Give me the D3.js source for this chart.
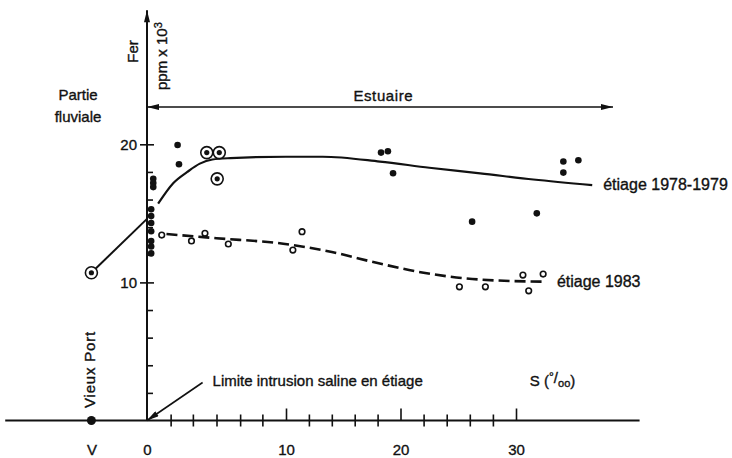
<!DOCTYPE html>
<html>
<head>
<meta charset="utf-8">
<script src="https://cdn.jsdelivr.net/npm/d3@7"></script>
<style>
  body { margin: 0; background: #fff; }
  svg { display: block; }
  text { font-family: "Liberation Sans", Arial, sans-serif; fill: #111; stroke: #111; stroke-width: 0.35px; }
</style>
</head>
<body>
<div id="chart"></div>
<script>
const width = 732, height = 458;

// salinity S (o/oo); the Vieux Port station "V" sits left of 0
const stationV = -4;
const xTickValues = [stationV, 0, 10, 20, 30];
const xTickLabels = ["V", "0", "10", "20", "30"];
const xMinorTicks = [1.7, 3.3, 5, 6.7, 8.3, 12, 14, 16, 18, 22, 24, 26, 28];
const yTickValues = [10, 20];
const yTickLabels = ["10", "20"];
const yMinorTicks = [2, 4, 6, 8, 12, 14, 16, 18];

// étiage 1978-1979, filled dots (Fer, ppm x 10^3)
const s1979 = [0.45, 0.45, 0.45, 0.3, 0.3, 0.3, 0.3, 0.3, 0.3, 0.3, 2.2, 2.3, 18.3, 18.9, 19.35, 26.2, 31.8, 34.1, 35.4, 34.1];
const fer1979 = [17.5, 17.2, 16.9, 15.3, 14.8, 14.3, 13.7, 13.0, 12.6, 12.1, 19.95, 18.55, 19.4, 19.5, 17.9, 14.4, 15.0, 18.75, 18.85, 17.95];
// ringed dots
const sRinged = [stationV, 4.3, 5.2, 5.05];
const ferRinged = [10.7, 19.4, 19.4, 17.5];
// river stretch and estuary curve 1978-1979
const sRiver = [stationV, 0];
const ferRiver = [10.7, 14.6];
const sCurve1979 = [0.8, 1.9, 2.9, 3.8, 4.7, 6.0, 10, 13.2, 18.2, 22.5, 26.9, 31.5, 36.6];
const ferCurve1979 = [15.7, 17.2, 18.0, 18.6, 18.9, 19.0, 19.1, 19.1, 18.75, 18.3, 17.9, 17.45, 17.05];

// étiage 1983, open circles
const s1983 = [1.06, 3.2, 4.17, 5.85, 10.6, 11.4, 25.1, 27.35, 30.6, 31.1, 32.35];
const fer1983 = [13.43, 13.0, 13.55, 12.78, 12.34, 13.67, 9.68, 9.68, 10.53, 9.39, 10.6];
const sCurve1983 = [1.4, 5, 9.8, 14, 18, 22, 27, 32.5];
const ferCurve1983 = [13.5, 13.2, 12.8, 12.2, 11.4, 10.7, 10.2, 10.05];

const zip = (xs, ys) => xs.map((d, i) => [d, ys[i]]);

const x = d3.scaleLinear()
    .domain([0, 10, 20, 30])
    .range([147, 286, 400.5, 516]);

const y = d3.scaleLinear()
    .domain([0, 20])
    .range([420.5, 144.3]);

const svg = d3.select("#chart").append("svg")
    .attr("width", width)
    .attr("height", height)
    .attr("viewBox", `0 0 ${width} ${height}`);

const defs = svg.append("defs");
defs.append("marker")
    .attr("id", "arrow")
    .attr("viewBox", "0 0 12 6")
    .attr("refX", 12)
    .attr("refY", 3)
    .attr("markerUnits", "userSpaceOnUse")
    .attr("markerWidth", 13)
    .attr("markerHeight", 6)
    .attr("orient", "auto-start-reverse")
    .append("path")
    .attr("d", "M0,0 L12,3 L0,6 Z")
    .attr("fill", "#111");

const ink = "#111";

// axis lines
svg.append("line")
    .attr("x1", x(-10.2)).attr("x2", x(40.7))
    .attr("y1", y(0)).attr("y2", y(0))
    .attr("stroke", ink).attr("stroke-width", 2);

svg.append("line")
    .attr("x1", x(0)).attr("x2", x(0))
    .attr("y1", y(0)).attr("y2", y(29.7))
    .attr("stroke", ink).attr("stroke-width", 2)
    .attr("marker-end", "url(#arrow)");

const styleText = g => g.selectAll(".tick text")
    .attr("fill", ink)
    .style("font-family", "'Liberation Sans', Arial, sans-serif")
    .style("font-size", "15px");

svg.append("g")
    .attr("transform", `translate(0, ${y(0)})`)
    .call(d3.axisBottom(x).tickValues(xTickValues).tickSize(-12).tickPadding(24)
        .tickFormat((d, i) => xTickLabels[i]))
    .call(g => g.select(".domain").remove())
    .call(g => g.selectAll(".tick line")
        .attr("stroke", ink).attr("stroke-width", 1.6)
        .attr("display", d => (d <= 0 ? "none" : null)))
    .call(styleText);

svg.append("g")
    .attr("transform", `translate(0, ${y(0)})`)
    .call(d3.axisBottom(x).tickValues(xMinorTicks).tickSize(6).tickFormat(""))
    .call(g => g.select(".domain").remove())
    .call(g => g.selectAll(".tick line")
        .attr("y1", -6).attr("stroke", ink).attr("stroke-width", 1.6));

svg.append("g")
    .attr("transform", `translate(${x(0)}, 0)`)
    .call(d3.axisLeft(y).tickValues(yTickValues).tickSize(7).tickPadding(3)
        .tickFormat((d, i) => yTickLabels[i]))
    .call(g => g.select(".domain").remove())
    .call(g => g.selectAll(".tick line")
        .attr("x1", 7).attr("stroke", ink).attr("stroke-width", 1.6))
    .call(styleText);

svg.append("g")
    .attr("transform", `translate(${x(0)}, 0)`)
    .call(d3.axisRight(y).tickValues(yMinorTicks).tickSize(6).tickFormat(""))
    .call(g => g.select(".domain").remove())
    .call(g => g.selectAll(".tick line").attr("stroke", ink).attr("stroke-width", 1.6));

// axis titles and annotations
const label = (px, py, txt, size = 15) => svg.append("text")
    .attr("x", px).attr("y", py)
    .style("font-size", `${size}px`)
    .text(txt);

svg.append("text")
    .attr("transform", `translate(${x(0) - 9}, 51.5) rotate(-90)`)
    .attr("text-anchor", "middle")
    .style("font-size", "15px")
    .text("Fer");

const ppm = svg.append("text")
    .attr("transform", `translate(${x(0) + 20}, 90) rotate(-90)`)
    .style("font-size", "15px");
ppm.append("tspan").text("ppm x 10");
ppm.append("tspan").attr("dy", "-0.45em").style("font-size", "11px").text("3");

label(78, 100, "Partie").attr("text-anchor", "middle");
label(78, 122, "fluviale").attr("text-anchor", "middle");

svg.append("text")
    .attr("transform", `translate(${x(stationV) + 4}, 408) rotate(-90)`)
    .style("font-size", "15px")
    .style("letter-spacing", "0.8px")
    .text("Vieux Port");

// estuary extent
svg.append("line")
    .attr("x1", x(0)).attr("x2", x(38.4))
    .attr("y1", y(22.7)).attr("y2", y(22.7))
    .attr("stroke", ink).attr("stroke-width", 1.6)
    .attr("marker-start", "url(#arrow)")
    .attr("marker-end", "url(#arrow)");
label(x(18.5), y(22.7) - 6, "Estuaire")
    .attr("text-anchor", "middle")
    .style("letter-spacing", "0.6px");

// saline intrusion limit
svg.append("line")
    .attr("x1", x(4.0)).attr("y1", y(2.75))
    .attr("x2", x(0)).attr("y2", y(0))
    .attr("stroke", ink).attr("stroke-width", 1.6)
    .attr("marker-end", "url(#arrow)");
label(x(4.0) + 10, y(2.75) + 3, "Limite intrusion saline en étiage");

const sLabel = svg.append("text")
    .attr("x", x(31.2)).attr("y", y(2.5))
    .style("font-size", "15px");
sLabel.append("tspan").text("S (");
sLabel.append("tspan").attr("dy", "-0.4em").style("font-size", "12px").text("°");
sLabel.append("tspan").attr("dy", "0.1em").text("/");
sLabel.append("tspan").attr("dy", "0.35em").style("font-size", "11px").text("oo");
sLabel.append("tspan").attr("dy", "-0.05em").text(")");

// curves
const line = d3.line()
    .x(d => x(d[0]))
    .y(d => y(d[1]))
    .curve(d3.curveMonotoneX);

svg.append("path")
    .datum(zip(sRiver, ferRiver))
    .attr("d", d3.line().x(d => x(d[0])).y(d => y(d[1])))
    .attr("fill", "none").attr("stroke", ink).attr("stroke-width", 2);

svg.append("path")
    .datum(zip(sCurve1979, ferCurve1979))
    .attr("d", line)
    .attr("fill", "none").attr("stroke", ink).attr("stroke-width", 2.2);

svg.append("path")
    .datum(zip(sCurve1983, ferCurve1983))
    .attr("d", line)
    .attr("fill", "none").attr("stroke", ink).attr("stroke-width", 2.6)
    .attr("stroke-dasharray", "11,5");

const last1979 = sCurve1979.length - 1;
label(x(sCurve1979[last1979]) + 11, y(ferCurve1979[last1979]) + 5, "étiage 1978-1979", 16);
const last1983 = sCurve1983.length - 1;
label(x(sCurve1983[last1983]) + 12, y(ferCurve1983[last1983]) + 5, "étiage 1983", 16);

// points
svg.append("g")
    .selectAll("circle")
    .data(zip(s1979, fer1979))
    .join("circle")
    .attr("cx", d => x(d[0]))
    .attr("cy", d => y(d[1]))
    .attr("r", 3.3)
    .attr("fill", ink);

const ringed = svg.append("g")
    .selectAll("g")
    .data(zip(sRinged, ferRinged))
    .join("g")
    .attr("transform", d => `translate(${x(d[0])}, ${y(d[1])})`);
ringed.append("circle")
    .attr("r", 6)
    .attr("fill", "#fff")
    .attr("stroke", ink)
    .attr("stroke-width", 1.6);
ringed.append("circle")
    .attr("r", 2.6)
    .attr("fill", ink);

svg.append("g")
    .selectAll("circle")
    .data(zip(s1983, fer1983))
    .join("circle")
    .attr("cx", d => x(d[0]))
    .attr("cy", d => y(d[1]))
    .attr("r", 2.8)
    .attr("fill", "#fff")
    .attr("stroke", ink)
    .attr("stroke-width", 1.6);

// station V on the river axis
svg.append("circle")
    .attr("cx", x(stationV))
    .attr("cy", y(0))
    .attr("r", 4.5)
    .attr("fill", ink);
</script>
</body>
</html>
